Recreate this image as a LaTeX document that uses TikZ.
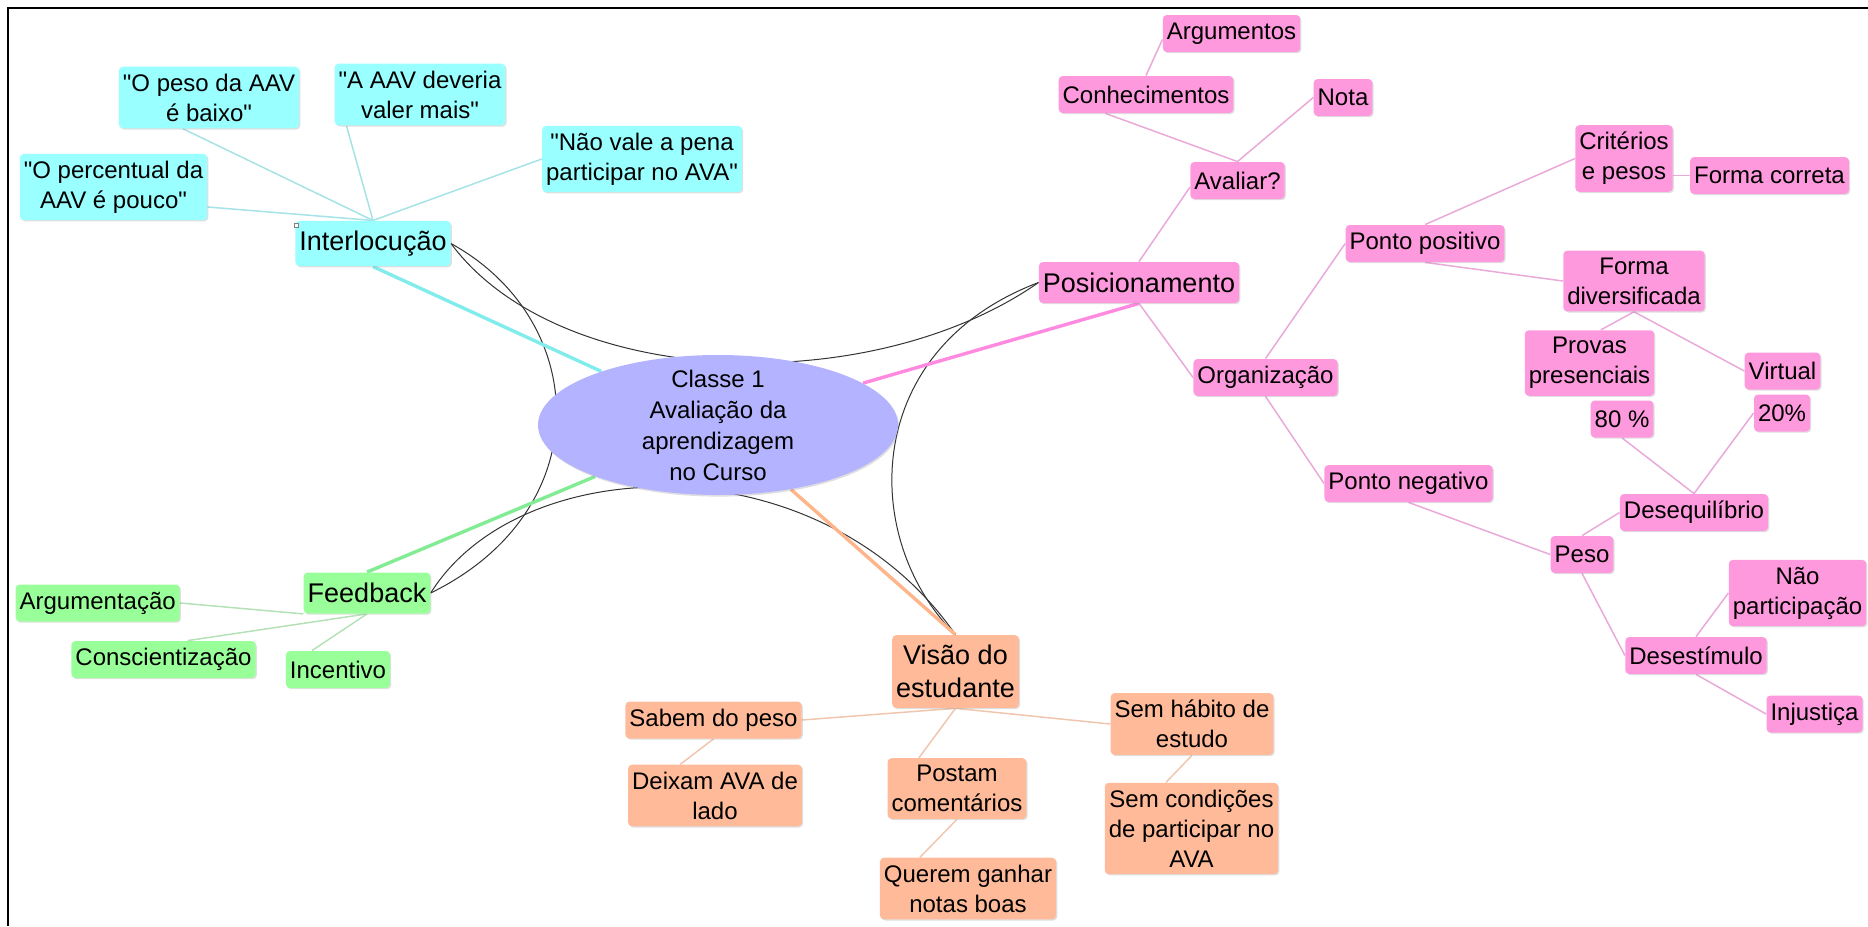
\documentclass[tikz,border=0pt]{standalone}
\usepackage{fontspec}
\setmainfont{Liberation Sans}[Ligatures=TeXOff]
\usepackage{tikz}
\usetikzlibrary{shapes.geometric,shadows,backgrounds}

\definecolor{cyanbox}{HTML}{99FFFF}
\definecolor{pinkbox}{HTML}{FF99DD}
\definecolor{greenbox}{HTML}{99FF99}
\definecolor{orangebox}{HTML}{FFBB99}
\definecolor{ellbox}{HTML}{B3B3FF}
\definecolor{cyanline}{HTML}{A6E3E6}
\definecolor{pinkline}{HTML}{E9A9D9}
\definecolor{greenline}{HTML}{B4E2B6}
\definecolor{orangeline}{HTML}{F1C6AE}

\begin{document}
\begin{tikzpicture}[x=0.5pt,y=-0.5pt,
    box/.style={rounded corners=2pt,inner xsep=2pt,inner ysep=3.5pt,minimum height=18.5pt,
      align=center,font=\fontsize{12}{15}\selectfont,
      drop shadow={shadow xshift=0.6pt,shadow yshift=-0.6pt,opacity=0.25}},
    bigbox/.style={box,inner ysep=5pt,minimum height=20.5pt,font=\fontsize{13.5}{16.5}\selectfont},
    cy/.style={fill=cyanbox},
    pk/.style={fill=pinkbox},
    gr/.style={fill=greenbox},
    og/.style={fill=orangebox},
    thin/.style={line width=0.75pt},
    thick/.style={line width=1.7pt},
    link/.style={line width=0.5pt,black!80}]
    \useasboundingbox (0,0) rectangle (1868,926);
    \draw[line width=1pt] (8.3,926) -- (8.3,7.7) -- (1868,7.7);

    \node[ellipse,fill=ellbox,minimum width=180pt,minimum height=70pt,inner sep=0pt,
      drop shadow={shadow xshift=0.6pt,shadow yshift=-0.8pt,opacity=0.25}] (classe) at (718,425) {};
    \node[align=center,font=\fontsize{12}{15.5}\selectfont] (classetxt) at (classe) {Classe 1\\Avaliação da\\aprendizagem\\no Curso};

    \node[bigbox,cy] (interloc) at (373,243.5) {Interlocução};
    \node[box,cy] (percentual) at (113.5,187) {"O percentual da\\AAV é pouco"};
    \node[box,cy] (opeso) at (209,97.5) {"O peso da AAV\\é baixo"};
    \node[box,cy] (aaav) at (420,94.5) {"A AAV deveria\\valer mais"};
    \node[box,cy] (naovale) at (642,159) {"Não vale a pena\\participar no AVA"};
    \draw[gray,line width=0.3pt,fill=white] (294.5,223) rectangle (298,227.5);

    \node[bigbox,pk] (pos) at (1139,282.5) {Posicionamento};
    \node[box,pk] (avaliar) at (1237.5,180.5) {Avaliar?};
    \node[box,pk] (conhec) at (1146,94.5) {Conhecimentos};
    \node[box,pk] (argum) at (1231.5,33.5) {Argumentos};
    \node[box,pk] (nota) at (1343,97.5) {Nota};
    \node[box,pk] (org) at (1265.5,377.5) {Organização};
    \node[box,pk] (ppos) at (1425,243.5) {Ponto positivo};
    \node[box,pk] (crit) at (1624,158.5) {Critérios\\e pesos};
    \node[box,pk] (fcorreta) at (1769.5,175.5) {Forma correta};
    \node[box,pk] (fdiv) at (1634,281) {Forma\\diversificada};
    \node[box,pk] (provas) at (1589.5,363) {Provas\\presenciais};
    \node[box,pk] (virtual) at (1782.5,371) {Virtual};
    \node[box,pk] (oitenta) at (1622,419) {80 \%};
    \node[box,pk] (vinte) at (1782,413) {20\%};
    \node[box,pk] (pneg) at (1408.5,483.5) {Ponto negativo};
    \node[box,pk] (peso) at (1582,554.5) {Peso};
    \node[box,pk] (deseq) at (1694,512.5) {Desequilíbrio};
    \node[box,pk] (desest) at (1696,655.5) {Desestímulo};
    \node[box,pk] (naopart) at (1797.5,593) {Não\\participação};
    \node[box,pk] (injust) at (1814.5,714) {Injustiça};

    \node[bigbox,gr] (feedback) at (367,593) {Feedback};
    \node[box,gr] (argumentacao) at (97.7,603) {Argumentação};
    \node[box,gr] (conscient) at (163.5,659.5) {Conscientização};
    \node[box,gr] (incentivo) at (338,669.5) {Incentivo};

    \node[bigbox,og] (visao) at (955.5,671.5) {Visão do\\estudante};
    \node[box,og] (sabem) at (713.5,720) {Sabem do peso};
    \node[box,og] (deixam) at (715,795.5) {Deixam AVA de\\lado};
    \node[box,og] (postam) at (957,788.5) {Postam\\comentários};
    \node[box,og] (querem) at (968,888.5) {Querem ganhar\\notas boas};
    \node[box,og] (semhab) at (1192,724) {Sem hábito de\\estudo};
    \node[box,og] (semcond) at (1191.5,828.5) {Sem condições\\de participar no\\AVA};

    \begin{scope}[on background layer]
    \draw[link] (interloc.east) .. controls (560,390) and (870,400) .. (pos.west);
    \draw[link] (interloc.east) .. controls (590,320) and (600,510) .. (feedback.east);
    \draw[link] (feedback.east) .. controls (520,450) and (820,440) .. (visao.north);
    \draw[link] (pos.west) .. controls (860,350) and (860,540) .. (visao.north);

    \draw[thick,cyanbox!85!teal] (interloc.south) -- (classe);
    \draw[thick,pinkbox!90!magenta] (pos.south) -- (classe);
    \draw[thick,greenbox!85!teal] (feedback.north) -- (classe);
    \draw[thick,orangebox!90!orange] (visao.north) -- (classe);

    \draw[thin,cyanline] (interloc.north) -- (percentual.-12);
    \draw[thin,cyanline] (interloc.north) -- (opeso.230);
    \draw[thin,cyanline] (interloc.north) -- (aaav.203);
    \draw[thin,cyanline] (interloc.north) -- (naovale.west);

    \draw[thin,pinkline] (pos.north) -- (avaliar.188);
    \draw[thin,pinkline] (avaliar.north) -- (conhec.205);
    \draw[thin,pinkline] (avaliar.north) -- (nota.west);
    \draw[thin,pinkline] (conhec.north) -- (argum.185);
    \draw[thin,pinkline] (pos.south) -- (org.west);
    \draw[thin,pinkline] (org.north) -- (ppos.west);
    \draw[thin,pinkline] (org.south) -- (pneg.west);
    \draw[thin,pinkline] (ppos.north) -- (crit.west);
    \draw[thin,pinkline] (ppos.south) -- (fdiv.west);
    \draw[thin,pinkline] (crit.east |- fcorreta.west) -- (fcorreta.west);
    \draw[thin,pinkline] (fdiv.south) -- (provas.71);
    \draw[thin,pinkline] (fdiv.south) -- (virtual.west);
    \draw[thin,pinkline] (oitenta.south) -- (deseq.north);
    \draw[thin,pinkline] (vinte.west) -- (deseq.north);
    \draw[thin,pinkline] (pneg.south) -- (peso.west);
    \draw[thin,pinkline] (peso.north) -- (deseq.west);
    \draw[thin,pinkline] (peso.south) -- (desest.west);
    \draw[thin,pinkline] (desest.north) -- (naopart.west);
    \draw[thin,pinkline] (desest.south) -- (injust.west);

    \draw[thin,greenline] (feedback.south west) -- (argumentacao.east);
    \draw[thin,greenline] (feedback.south) -- (conscient.38);
    \draw[thin,greenline] (feedback.south) -- (incentivo.144);

    \draw[thin,orangeline] (visao.south) -- (sabem.east);
    \draw[thin,orangeline] (visao.south) -- (postam.141);
    \draw[thin,orangeline] (visao.south) -- (semhab.west);
    \draw[thin,orangeline] (sabem.south) -- (deixam.138);
    \draw[thin,orangeline] (postam.south) -- (querem.147);
    \draw[thin,orangeline] (semhab.south) -- (semcond.119);
    \end{scope}
\end{tikzpicture}
\end{document}
